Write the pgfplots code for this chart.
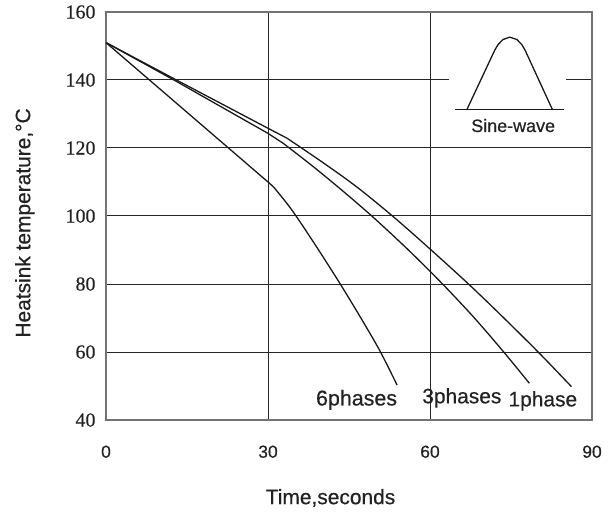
\documentclass[border=0pt]{standalone}
\usepackage{pgfplots}
\pgfplotsset{compat=1.18}
\usepackage{fontspec}
\setmainfont{Liberation Sans}[BoldFont=Liberation Sans, BoldFeatures={FakeBold=0.5}]
\newfontfamily\serifnum{Liberation Serif}[BoldFont=Liberation Serif, BoldFeatures={FakeBold=0.4}]
\definecolor{txt}{HTML}{222222}

\begin{document}
\begin{tikzpicture}
\useasboundingbox (-106bp,-93bp) rectangle (509bp,420bp);
\begin{axis}[
  at={(0,0)}, anchor=south west,
  scale only axis,
  width=486bp, height=408bp,
  xmin=0, xmax=90, ymin=40, ymax=160,
  xtick={0,30,60,90},
  ytick={40,60,...,160},
  /pgf/number format/assume math mode=true,
  major tick length=0pt,
  grid=major,
  grid style={black!85, line width=1bp},
  axis line style={black!55, line width=1.6bp},
  xticklabel style={font=\bfseries\fontsize{17.5}{18}\selectfont, text=txt, yshift=-22bp},
  yticklabel style={font=\serifnum\bfseries\fontsize{20}{20}\selectfont, text=txt, xshift=-7bp},
  xlabel={Time,seconds},
  ylabel={Heatsink temperature,°C},
  xlabel style={font=\bfseries\fontsize{21}{21}\selectfont, text=txt,
    at={(axis description cs:0.462,-0.191)}, anchor=center},
  ylabel style={font=\bfseries\fontsize{21}{21}\selectfont, text=txt,
    at={(axis description cs:-0.167,0.483)}, anchor=center},
]
% 1 phase: straight part, then curved part
\addplot[black!90, line width=1.3bp] coordinates {
  (0,151) (12.8,140.2) (30,125.8) (33.5,122.9)};
\addplot[black!90, line width=1.3bp, smooth] coordinates {
  (33.5,122.9) (40,115.9) (46.4,108.6) (53.2,99.8) (60,90.3)
  (67.4,79.6) (74,69.5) (80.4,59.4) (86.2,49.8)};
% 3 phases
\addplot[black!90, line width=1.3bp] coordinates {
  (0,151) (12.8,139.8) (30,124.3) (32.8,121.4)};
\addplot[black!90, line width=1.3bp, smooth] coordinates {
  (32.8,121.4) (38,115) (43.3,108.1) (49.5,99.6) (56,90.0)
  (62.2,80.2) (68,70.4) (73.6,60.1) (78.4,50.8)};
% 6 phases
\addplot[black!90, line width=1.3bp] coordinates {
  (0,151) (30,110) (31,108.6)};
\addplot[black!90, line width=1.3bp, smooth] coordinates {
  (31,108.6) (34.4,101.8) (38.8,91.4) (43.3,80.2)
  (47.2,70.0) (50.7,60.4) (53.9,50.3)};
% inset: sine-wave pulse
\fill[white] (axis cs:63.5,138.3) rectangle (axis cs:85.2,141.7);
\addplot[black!90, line width=1.1bp] coordinates {(64.6,131.2) (84.8,131.2)};
\addplot[black!90, line width=1.3bp] coordinates {
  (66.8,131.2) (72.0,148.8) (72.6,150.4) (73.5,151.9) (74.8,152.6)
  (76.1,151.9) (77.0,150.4) (77.6,148.8) (82.7,131.2)};
\node[font=\bfseries\fontsize{18}{18}\selectfont, text=txt] at (axis cs:75.4,126.6) {Sine-wave};
\node[font=\bfseries\fontsize{21.5}{21}\selectfont, text=txt] at (axis cs:46.4,45.9) {6phases};
\node[font=\bfseries\fontsize{21}{21}\selectfont, text=txt] at (axis cs:65.9,46.5) {3phases};
\node[font=\bfseries\fontsize{21}{21}\selectfont, text=txt] at (axis cs:80.9,45.6) {1phase};
\end{axis}
\end{tikzpicture}
\end{document}
